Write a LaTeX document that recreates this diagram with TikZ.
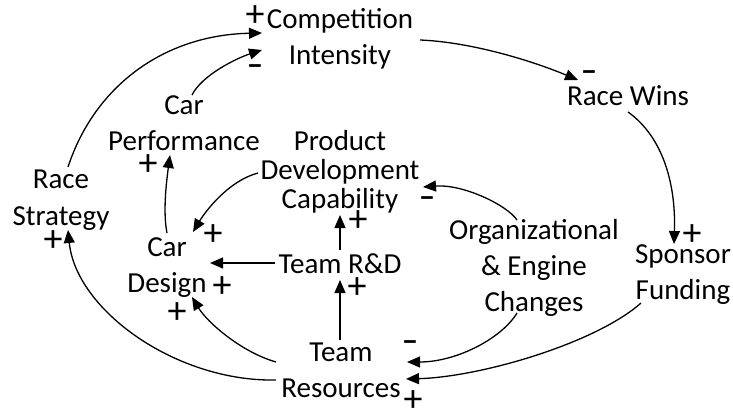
\documentclass[tikz,border=0pt]{standalone}
\usepackage{fontspec}
\setmainfont{Carlito}
\usetikzlibrary{arrows.meta}
\begin{document}
\begin{tikzpicture}[x=1pt,y=-1pt,
  var/.style={align=center, inner sep=0pt, anchor=base, font=\fontsize{29}{36}\selectfont},
  plussign/.style={inner sep=0pt, font=\fontsize{38}{38}\selectfont},
  minussign/.style={inner sep=0pt, font=\fontsize{30}{36}\selectfont\bfseries},
  link/.style={line width=1.3pt, -{Triangle[length=13pt,width=11pt]}}]
\path[use as bounding box] (0,0) rectangle (733,414);

% variables (placed by the baseline of their last line)
\node[var] (CI)  at (340,65)  {Competition\\Intensity};
\node[var] (RW)  at (628,106) {Race Wins};
\node[var] (CP)  at (184,151) {Car\\Performance};
\node[var, font=\fontsize{29}{29}\selectfont] (PDC) at (340,208) {Product\\Development\\Capability};
\node[var] (RS)  at (61,225)  {Race\\Strategy};
\node[var] (CD)  at (167,292) {Car\\Design};
\node[var] (TRD) at (340,273) {Team R\&D};
\node[var] (OEC) at (534,311) {Organizational\\\& Engine\\Changes};
\node[var] (SF)  at (683,299) {Sponsor\\Funding};
\node[var] (TR)  at (341,397) {Team\\Resources};

% causal links
\draw[link] ([shift={(7,-58)}]RS.base) .. controls +(27,-82) and +(-97,2) .. ([shift={(-78,-32)}]CI.base);
\draw[link] ([shift={(8,-56)}]CP.base) .. controls +(10,-20) and +(-25,8) .. ([shift={(-78,-15)}]CI.base);
\draw[link] ([shift={(80,-25)}]CI.base) .. controls +(50,2) and +(-48,-20) .. ([shift={(-50,-26)}]RW.base);
\draw[link] ([shift={(0,6)}]RW.base) .. controls +(35,25) and +(2,-60) .. ([shift={(-9,-55)}]SF.base);
\draw[link] ([shift={(-42,4)}]SF.base) .. controls +(-45,40) and +(75,-2) .. ([shift={(65,-18)}]TR.base);
\draw[link] ([shift={(-17,2)}]OEC.base) .. controls +(-15,25) and +(50,0) .. ([shift={(66,-35)}]TR.base);
\draw[link] ([shift={(-17,-91)}]OEC.base) .. controls +(-10,-15) and +(40,-3) .. ([shift={(83,-21)}]PDC.base);
\draw[link] ([shift={(-82,-35)}]PDC.base) .. controls +(-30,8) and +(12,-20) .. ([shift={(26,-60)}]CD.base);
\draw[link] ([shift={(-65,-10)}]TRD.base) -- ([shift={(43,-29)}]CD.base);
\draw[link] ([shift={(0,-23)}]TRD.base) -- ([shift={(0,7)}]PDC.base);
\draw[link] ([shift={(-1,-57)}]TR.base) -- ([shift={(0,7)}]TRD.base);
\draw[link] ([shift={(-65,-35)}]TR.base) .. controls +(-35,-10) and +(15,25) .. ([shift={(25,5)}]CD.base);
\draw[link] ([shift={(-65,-17)}]TR.base) .. controls +(-100,2) and +(8,80) .. ([shift={(7,5)}]RS.base);
\draw[link] ([shift={(0,-59)}]CD.base) .. controls +(-4,-20) and +(-4,30) .. ([shift={(-14,4)}]CP.base);

% link polarities
\node[plussign]  (s1)  at (255,16)  {+};
\node[minussign] (s2)  at (255,70)  {−};
\node[minussign] (s3)  at (589,76)  {−};
\node[plussign]  (s4)  at (692,235) {+};
\node[plussign]  (s5)  at (413,401) {+};
\node[minussign] (s6)  at (410,346) {−};
\node[minussign] (s7)  at (427,202) {−};
\node[plussign]  (s8)  at (213,235) {+};
\node[plussign]  (s9)  at (222,287) {+};
\node[plussign]  (s10) at (358,221) {+};
\node[plussign]  (s11) at (357,288) {+};
\node[plussign]  (s12) at (177,313) {+};
\node[plussign]  (s13) at (53,241)  {+};
\node[plussign]  (s14) at (148,165) {+};
\end{tikzpicture}
\end{document}
